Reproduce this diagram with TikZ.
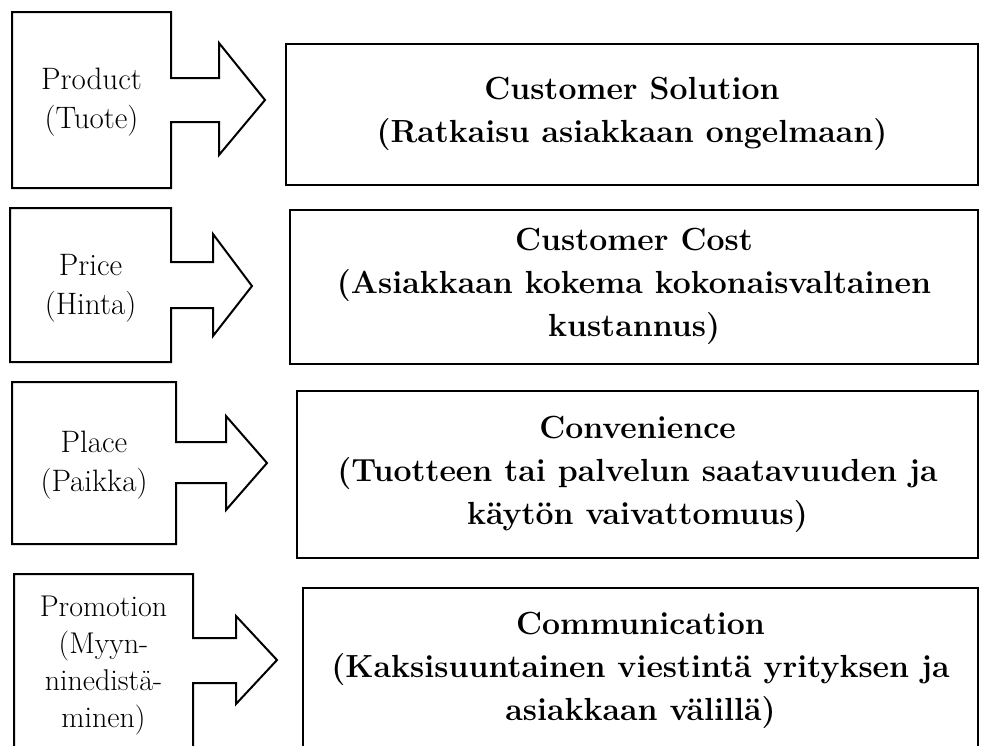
\documentclass[tikz,border=0pt]{standalone}
\usepackage{fontspec}
\begin{document}
\begin{tikzpicture}[x=1pt,y=-1pt,
  line width=2pt, line join=miter,
  mixtext/.style={align=center, font=\fontsize{31}{39}\selectfont, inner sep=0pt},
  resultbox/.style={draw, align=center, font=\bfseries\fontsize{32}{43}\selectfont, inner sep=0pt},
]
\useasboundingbox (0,0) rectangle (981,745);
\fill[white] (0,0) rectangle (981,745);
\clip (0,0) rectangle (981,745);

% Product -> Customer Solution
\draw (12,12) -- (171,12) -- (171,78) -- (219,78) -- (219,43) -- (265,100)
  -- (219,155) -- (219,122) -- (171,122) -- (171,188) -- (12,188) -- cycle;
\node[mixtext] (product) at (91.5,102) {Product\\(Tuote)};
\node[resultbox, minimum width=692, minimum height=141] (solution) at (632,114)
  {Customer Solution\\(Ratkaisu asiakkaan ongelmaan)};

% Price -> Customer Cost
\draw (10,208) -- (171,208) -- (171,262) -- (213,262) -- (213,234) -- (252,286)
  -- (213,336) -- (213,308) -- (171,308) -- (171,362) -- (10,362) -- cycle;
\node[mixtext] (price) at (90.5,288) {Price\\(Hinta)};
\node[resultbox, minimum width=688, minimum height=154] (cost) at (634,286.5)
  {Customer Cost\\(Asiakkaan kokema kokonaisvaltainen\\kustannus)};

% Place -> Convenience
\draw (12,382) -- (176,382) -- (176,442) -- (226,442) -- (226,416) -- (267,463)
  -- (226,510) -- (226,483) -- (176,483) -- (176,544) -- (12,544) -- cycle;
\node[mixtext] (place) at (94,465) {Place\\(Paikka)};
\node[resultbox, minimum width=681, minimum height=167] (convenience) at (637.5,474.5)
  {Convenience\\(Tuotteen tai palvelun saatavuuden ja\\käytön vaivattomuus)};

% Promotion -> Communication
\draw (14,574) -- (193,574) -- (193,638) -- (236,638) -- (236,616) -- (277,660)
  -- (236,704) -- (236,683) -- (193,683) -- (193,752) -- (14,752) -- cycle;
\node[mixtext, font=\fontsize{30}{37}\selectfont] (promotion) at (103.5,665)
  {Promotion\\(Myyn-\\ninedistä-\\minen)};
\node[resultbox, minimum width=675, minimum height=165] (communication) at (640.5,670.5)
  {Communication\\(Kaksisuuntainen viestintä yrityksen ja\\asiakkaan välillä)};
\end{tikzpicture}
\end{document}
